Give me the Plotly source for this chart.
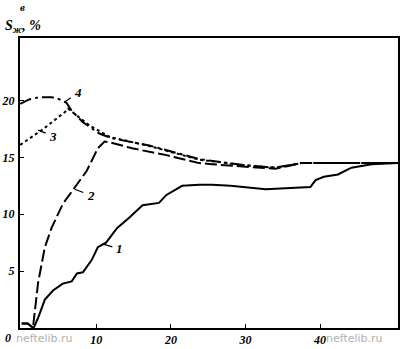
import plotly.graph_objects as go

# Curve 1 (solid)
x1 = [0, 0.8, 1.6, 2.2, 3.1, 4.2, 5.5, 6.7, 7.4, 8.2, 9.4, 10.2, 11.3, 12.8, 14.4, 16.2, 18.4, 19.4, 21.5, 23.8, 25.5, 28, 32.7, 36, 38.7, 39.4, 40.5, 42.4, 44.2, 46.9, 50.5]
y1 = [0.4, 0.4, 0, 0.9, 2.5, 3.3, 3.9, 4.1, 4.8, 4.9, 6.0, 7.1, 7.5, 8.8, 9.7, 10.8, 11.0, 11.7, 12.5, 12.6, 12.6, 12.5, 12.2, 12.3, 12.4, 13.0, 13.3, 13.5, 14.1, 14.4, 14.5]
# Curve 2 (dashed)
x2 = [0, 0.8, 1.5, 2.2, 3.1, 4.0, 5.5, 7.1, 8.7, 10.2, 11.1, 12, 14.8, 19.4, 23.8, 25.5, 30, 34, 37.5, 40, 50.5]
y2 = [0.4, 0.4, 0, 4.0, 7.1, 8.8, 10.9, 12.3, 13.8, 15.8, 16.4, 16.3, 15.8, 15.2, 14.5, 14.4, 14.2, 14.0, 14.5, 14.5, 14.5]
# Curve 3 (dotted)
x3 = [-0.2, 2.9, 5.8, 6.2, 9.1, 11.8, 17.1, 23.8, 30, 34, 37.5, 50.5]
y3 = [16.1, 17.5, 19.0, 19.3, 17.8, 16.8, 16.0, 14.8, 14.3, 14.1, 14.5, 14.5]
# Curve 4 (dash-dot)
x4 = [-0.2, 1, 2.4, 4, 5.1, 6.0, 6.7, 8.2, 10.4, 12, 17.1, 23.8, 30, 34, 37.5, 50.5]
y4 = [19.7, 20.1, 20.3, 20.3, 20.1, 19.8, 19.1, 18.1, 17.1, 16.7, 16.05, 14.85, 14.3, 14.1, 14.5, 14.5]

x_ticks = [10, 20, 30, 40]
y_ticks = [5, 10, 15, 20]

# curve labels: (text, x, y on curve, ax, ay)
labels = [("1", 10.8, 7.4, 17, 5), ("2", 7.1, 12.2, 16, 6), ("3", 2.2, 17.4, 15, 6), ("4", 5.8, 19.9, 13, -9)]

serif = "Liberation Serif"
fig = go.Figure()
for xs, ys, dash in [(x1, y1, "solid"), (x2, y2, "12px,4px"), (x3, y3, "dot"), (x4, y4, "12px,4px,3px,4px")]:
    fig.add_trace(go.Scatter(x=xs, y=ys, mode="lines", line=dict(color="black", width=2, dash=dash), showlegend=False))

for t, x, y, ax, ay in labels:
    fig.add_annotation(x=x, y=y, ax=ax, ay=ay, text="<b><i>%s</i></b>" % t, showarrow=True,
                       arrowhead=0, arrowwidth=1.2, arrowcolor="black", standoff=0, startstandoff=2,
                       font=dict(family=serif, size=13, color="black"))

fig.add_annotation(x=0, y=0, xref="paper", yref="paper", xanchor="center", yanchor="middle",
                   text="<b><i>0</i></b>", showarrow=False,
                   xshift=-12, yshift=-10, font=dict(family=serif, size=12, color="black"))
fig.add_annotation(x=0, y=1, xref="paper", yref="paper", xanchor="left", yanchor="bottom",
                   text="<b><i>S<sub>ж</sub>, %</i></b>", showarrow=False, xshift=-17, yshift=1,
                   font=dict(family=serif, size=14, color="black"))
fig.add_annotation(x=0, y=1, xref="paper", yref="paper", xanchor="left", yanchor="bottom",
                   text="<b><i>в</i></b>", showarrow=False, xshift=-2, yshift=23,
                   font=dict(family=serif, size=11, color="black"))
for xp in [0.066, 0.885]:
    fig.add_annotation(x=xp, y=0, xref="paper", yref="paper", xanchor="center", yanchor="middle",
                       text="neftelib.ru", showarrow=False,
                       yshift=-10, font=dict(family="DejaVu Sans", size=11, color="#b0b0b0"))

fig.update_xaxes(range=[-0.23, 50.44], tickvals=x_ticks, ticktext=["<b><i>%d</i></b>" % v for v in x_ticks],
                 ticks="inside", ticklen=4, tickcolor="black", showline=True, linecolor="black",
                 linewidth=2, mirror=True, showgrid=False, zeroline=False,
                 tickfont=dict(family=serif, size=12, color="black"), ticklabelstandoff=0)
fig.update_yaxes(range=[0, 25.5], tickvals=y_ticks, ticktext=["<b><i>%d</i></b>" % v for v in y_ticks],
                 ticks="inside", ticklen=4, tickcolor="black", showline=True, linecolor="black",
                 linewidth=2, mirror=True, showgrid=False, zeroline=False,
                 tickfont=dict(family=serif, size=12, color="black"), ticklabelstandoff=1)
fig.update_layout(width=402, height=349, margin=dict(l=20, r=2, t=38, b=17),
                  plot_bgcolor="white", paper_bgcolor="white")
fig.write_html("out.html")
